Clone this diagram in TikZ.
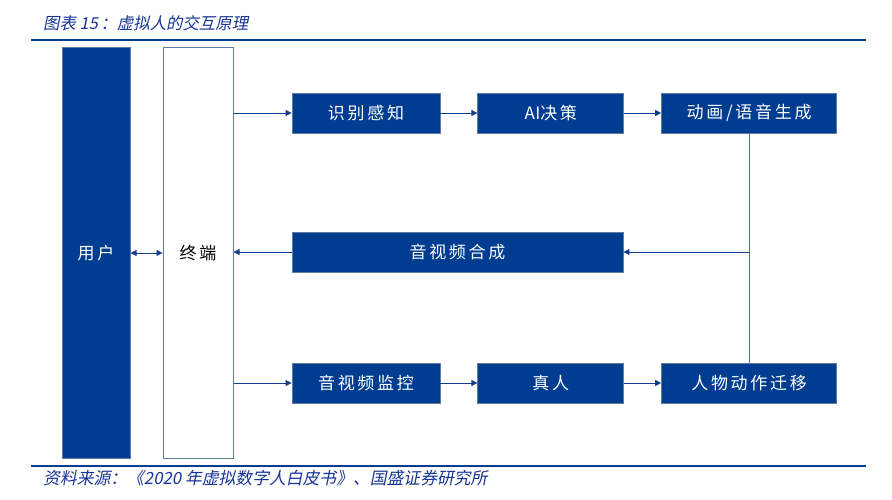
\documentclass[tikz,border=0pt]{standalone}
\usepackage{fontspec}
\setmainfont{Noto Sans CJK SC}
\newfontfamily\boxfont[LetterSpace=16]{Noto Sans CJK SC}
\newfontfamily\capfont[FakeSlant=0.2]{Noto Sans CJK SC}
\usepackage{tikz}
\usetikzlibrary{arrows.meta,positioning}
\definecolor{gsblue}{RGB}{0,61,145}
\definecolor{gsedge}{RGB}{96,124,160}
\definecolor{gsline}{RGB}{18,62,140}
\definecolor{gsvline}{RGB}{70,110,178}
\definecolor{gscap}{RGB}{22,52,150}

\begin{document}
\begin{tikzpicture}[
  x=1pt, y=-1pt,
  blk/.style={draw=gsedge, fill=gsblue, text=white, line width=0.8pt,
    minimum height=40pt, inner sep=0pt, font=\boxfont\fontsize{17}{19}\selectfont},
  col/.style={draw=gsedge, line width=1pt, minimum width=68pt,
    minimum height=410pt, inner sep=0pt, font=\boxfont\fontsize{17}{19}\selectfont},
  arr/.style={-{Triangle[length=6pt,width=6pt]}, gsline, line width=0.8pt},
  rule/.style={line width=2.6pt, draw=gsblue},
  captxt/.style={anchor=west, text=gscap, inner sep=0pt, font=\capfont\fontsize{16.4}{19}\selectfont}
]
\useasboundingbox (0,0) rectangle (892,500);
\node[captxt] (title) at (43,23) {图表 15\,：虚拟人的交互原理};
\draw[rule] (31,40) -- (866,40);
\draw[rule] (31,466) -- (866,466);
\node[captxt, font=\capfont\fontsize{16.8}{19}\selectfont] (source) at (43,478) {资料来源：《2020 年虚拟数字人白皮书》、国盛证券研究所};

\node[col, fill=gsblue, text=white] (user) at (96,253) {用户};
\node[col, fill=white, minimum width=70pt] (term) at (198,253) {终端};

\node[blk, minimum width=148pt] (sense) at (366,113) {识别感知};
\node[blk, minimum width=146pt, right=37pt of sense] (decide) {{\addfontfeature{LetterSpace=2}AI}决策};
\node[blk, minimum width=175pt, right=37pt of decide] (anim) {动画/语音生成};
\node[blk, minimum width=331pt, anchor=west] (synth) at (sense.west |- 0,252) {音视频合成};
\node[blk, minimum width=148pt] (monitor) at (366,383) {音视频监控};
\node[blk, minimum width=146pt, right=37pt of monitor] (human) {真人};
\node[blk, minimum width=175pt, right=37pt of human] (motion) {人物动作迁移};
\coordinate (junc) at (anim.south |- synth.east);

\draw[arr, {Triangle[length=6pt,width=6pt]}-{Triangle[length=6pt,width=6pt]}] (user.east) -- (term.west);
\draw[arr] (term.east |- sense.west) -- (sense.west);
\draw[arr] (sense) -- (decide);
\draw[arr] (decide) -- (anim);
\draw[arr] (term.east |- monitor.west) -- (monitor.west);
\draw[arr] (monitor) -- (human);
\draw[arr] (human) -- (motion);
\draw[gsvline, line width=1pt] (anim.south) -- (motion.north);
\draw[arr] (junc) -- (synth.east);
\draw[arr] (synth.west) -- (term.east |- synth.west);
\end{tikzpicture}
\end{document}
